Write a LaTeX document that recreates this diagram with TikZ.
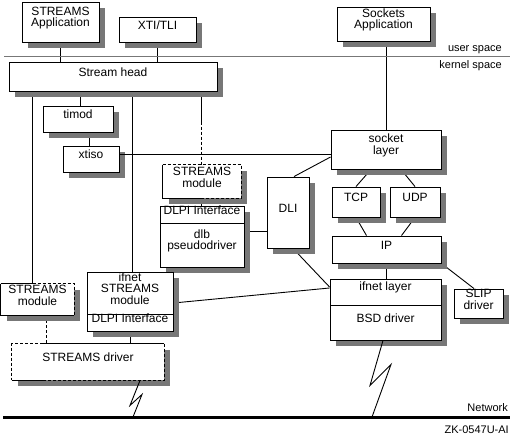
\documentclass[tikz,border=0pt]{standalone}
\usepackage{fontspec}
\setmainfont{Liberation Sans}
\usetikzlibrary{fit,calc,backgrounds}
\definecolor{shadowgray}{HTML}{777777}
\tikzset{
  box/.style={draw, fill=white, line width=0.9pt, inner sep=0pt, align=center,
    font=\fontsize{12}{11.5}\selectfont},
  openbox/.style={box, draw=none},
  shadowfill/.style={fill=shadowgray, draw=none},
  conn/.style={line width=0.9pt},
  dashedge/.style={line width=0.9pt, dash pattern=on 3pt off 2pt},
  lbl/.style={font=\fontsize{11}{12}\selectfont, inner sep=0pt}
}
% shadow of a box x1,y1,x2,y2 (offset by 6 right and down)
\newcommand\boxshade[4]{%
  \fill[shadowfill] ({#1+6},{#2+6}) rectangle ({#3+6},{#4+6});
}
\begin{document}
\begin{tikzpicture}[x=1pt,y=-1pt]
\useasboundingbox (0,0) rectangle (510,435);
% user / kernel separator
\coordinate (sepL) at (4,56);
\coordinate (sepR) at (510,56);
\draw[draw=shadowgray, line width=0.9pt] (sepL) -- (sepR);
\node[lbl, anchor=base east] (us) at (502,51.5) {user space};
\node[lbl, anchor=base east] (ks) at (502,68.5) {kernel space};
% boxes
\node[box, fit={(22,2) (99,42)}] (sapp) {STREAMS\\Application};
\node[box, fit={(119,17) (196,42)}] (xti) {XTI/TLI};
\node[box, fit={(337,7) (430,41)}] (sock) {Sockets\\Application};
\node[box, fit={(9,62) (217,91)}] (shead) {Stream head};
\node[box, fit={(43,106) (113,132)}] (timod) {timod};
\node[box, fit={(63,146) (119,172)}] (xtiso) {xtiso};
\node[openbox, fit={(163,165) (241,198)}] (smod2) {STREAMS\\module};
\node[box, fit={(160,206) (244,223)}] (dlbtop) {DLPI Interface};
\node[box, fit={(160,223) (244,267)}] (dlbbot) {dlb\\pseudodriver};
\node[box, fit={(267,177) (309,248)}] (dli) {DLI};
\node[box, fit={(331,130) (441,169)}] (slayer) {socket\\layer};
\node[box, fit={(332,187) (380,217)}] (tcp) {TCP};
\node[box, fit={(390,187) (440,217)}] (udp) {UDP};
\node[box, fit={(332,236) (441,263)}] (ip) {IP};
\node[box, fit={(330,279) (441,305)}] (ifnettop) {ifnet layer};
\node[box, fit={(330,305) (441,340)}] (ifnetbot) {BSD driver};
\node[box, fit={(454,289) (503,318)}] (slip) {SLIP\\driver};
\node[box, fit={(87,272) (173,314)}] (ifstop) {ifnet\\STREAMS\\module};
\node[box, fit={(87,314) (173,331)}] (ifsbot) {DLPI Interface};
\node[openbox, fit={(1,284) (74,315)}] (smod1) {STREAMS\\module};
\node[openbox, fit={(12,344) (164,380)}] (sdrv) {STREAMS driver};
% network
\coordinate (netL) at (3,417);
\coordinate (netR) at (510,417);
\draw[line width=3pt] (netL) -- (netR);
\node[lbl, anchor=base east] (netlbl) at (508,411) {Network};
\node[lbl, anchor=base east] (zk) at (509,433) {ZK-0547U-AI};
% helper points
\coordinate (h1) at ([xshift=24pt]shead.south west);
\coordinate (t1) at ([xshift=2pt]timod.north);
\coordinate (i1) at ([xshift=2pt]ifstop.north);
\coordinate (m1) at ([xshift=-1pt]smod2.north);
\coordinate (m2) at ([yshift=43pt]m1);
\coordinate (x1) at ([xshift=-2pt]xtiso.north);
\coordinate (x2) at ([yshift=5pt]xtiso.east);
\coordinate (d1) at ([yshift=14pt]dlbbot.east);
\coordinate (s1) at ([xshift=8.5pt]smod1.south);
\coordinate (z1) at ([xshift=52pt]sdrv.south);
\coordinate (z1e) at ([xshift=45pt]sdrv.south);
\coordinate (z2) at ([xshift=-2.5pt]ifnetbot.south);
\coordinate (z2e) at ([xshift=-13.5pt]ifnetbot.south);
\coordinate (e1) at ([xshift=31pt]sdrv.north west);
\coordinate (e2) at ([xshift=33pt]sdrv.south west);
% connectors and shadows below the boxes
\begin{scope}[on background layer]
\begin{scope}[conn]
\draw (sapp.south) -- (sapp.south |- shead.north);
\draw (xti.south) -- (xti.south |- shead.north);
\draw (slayer.north) -- (slayer.north |- sock.south);
\draw (h1) -- (h1 |- smod1.north);
\draw (t1) -- (t1 |- shead.south);
\draw (i1) -- (i1 |- shead.south);
\draw (m1 |- shead.south) -- (m2);
\draw[dashedge] (m2) -- (m1);
\draw (x1) -- (x1 |- timod.south);
\draw (m1 |- smod2.south) -- (m1 |- dlbtop.north);
\draw (d1) -- (d1 -| dli.west);
\draw ([xshift=6pt]dli.north) -- ([yshift=-7.5pt]slayer.west);
\draw ([xshift=5pt]dli.south) -- ([yshift=5pt]ifnettop.west);
\draw ([xshift=-15pt]slayer.south) -- (tcp.north);
\draw ([xshift=15pt]slayer.south) -- (udp.north);
\draw (tcp.south) -- ([xshift=-20pt]ip.north);
\draw (udp.south) -- ([xshift=15pt]ip.north);
\draw (ip.south) -- (ip.south |- ifnettop.north);
\draw (ip.south east) -- ([xshift=-4.5pt]slip.north);
\draw ([yshift=-10pt]ifstop.east) -- ([yshift=4pt]ifnettop.west);
\draw (ifsbot.south) -- (ifsbot.south |- sdrv.north);
\draw[dashedge] (s1) -- (s1 |- sdrv.north);
\end{scope}
\boxshade{22}{2}{99}{42}
\boxshade{119}{17}{196}{42}
\boxshade{337}{7}{430}{41}
\boxshade{9}{62}{217}{91}
\boxshade{43}{106}{113}{132}
\boxshade{63}{146}{119}{172}
\boxshade{163}{165}{241}{198}
\boxshade{160}{206}{244}{267}
\boxshade{267}{177}{309}{248}
\boxshade{331}{130}{441}{169}
\boxshade{332}{187}{380}{217}
\boxshade{390}{187}{440}{217}
\boxshade{332}{236}{441}{263}
\boxshade{330}{279}{441}{340}
\boxshade{454}{289}{503}{318}
\boxshade{87}{272}{173}{331}
\boxshade{1}{284}{74}{315}
\boxshade{12}{344}{164}{380}
\end{scope}
% connectors drawn over shadows
\draw[conn] (x2) -- (x2 -| slayer.west);
\draw[conn] (z1) -- ++(-10,25) -- ++(12,-11) -- (z1e |- netL);
\draw[conn] (z2) -- ++(-13,45) -- ++(21,-21) -- (z2e |- netL);
% partly dashed borders
\draw[conn] (smod1.north west) -- (smod1.south west) -- (smod1.south east);
\draw[conn] (smod1.north west) -- (h1 |- smod1.north);
\draw[dashedge] (h1 |- smod1.north) -- (smod1.north east) -- (smod1.south east);
\draw[conn] (smod2.north west) -- (smod2.south west) -- (m1 |- smod2.south);
\draw[dashedge] (smod2.north west) -- (smod2.north east) -- (smod2.south east) -- (m1 |- smod2.south);
\draw[conn] (e1) -- (sdrv.north east);
\draw[conn] (sdrv.south west) -- (e2);
\draw[dashedge] (e1) -- (sdrv.north west) -- (sdrv.south west);
\draw[dashedge] (sdrv.north east) -- (sdrv.south east) -- (e2);
\end{tikzpicture}
\end{document}
